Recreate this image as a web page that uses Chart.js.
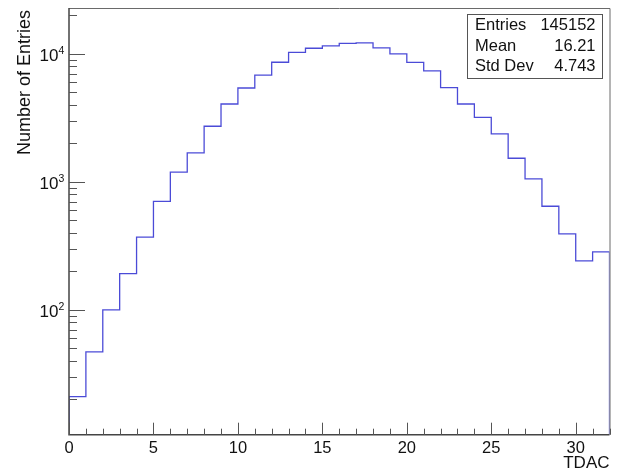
<!DOCTYPE html>
<html>
<head>
<meta charset="utf-8">
<script src="https://cdn.jsdelivr.net/npm/chart.js@4/dist/chart.umd.min.js"></script>
<style>
html,body{margin:0;padding:0;background:#fff;}
#wrap{width:622px;height:473px;position:relative;}
</style>
</head>
<body>
<div id="wrap"><canvas id="c" width="622" height="473"></canvas></div>
<script>
// TDAC bin lower edges (32 bins of width 1)
const binEdges = [0,1,2,3,4,5,6,7,8,9,10,11,12,13,14,15,16,17,18,19,20,21,22,23,24,25,26,27,28,29,30,31];
const binWidth = 1;
// counts per bin
const counts = [21,47,100,192,370,706,1191,1688,2723,4064,5420,6824,8610,10300,11080,11550,12110,12180,11140,10000,8590,7370,5450,4064,3198,2371,1531,1055,646,393,242,284];
const xTickLabels = ['0','5','10','15','20','25','30'];
const xTickValues = [0,5,10,15,20,25,30];
const yTickExponents = [2,3,4];
const statsLabels = ['Entries','Mean','Std Dev'];
const statsValues = ['145152','16.21','4.743'];
const xTitle = 'TDAC';
const yTitle = 'Number of Entries';
const xMin = 0, xMax = 32, yMin = 10.6, yMax = 22850;

// build step outline from the arrays
const pts = [{x: binEdges[0], y: yMin}];
binEdges.forEach((e,i)=>pts.push({x:e, y:counts[i]}));
pts.push({x: binEdges[binEdges.length-1]+binWidth, y: counts[counts.length-1]});
pts.push({x: binEdges[binEdges.length-1]+binWidth, y: yMin});

const FONT = '"Liberation Sans", Arial, Helvetica, sans-serif';

const rootStyle = {
  id: 'rootStyle',
  afterDraw(chart){
    const ctx = chart.ctx, a = chart.chartArea;
    const xs = chart.scales.x, ys = chart.scales.y;
    ctx.save();
    // frame top/right
    ctx.strokeStyle = '#6a6a6a';
    ctx.lineWidth = 1;
    ctx.beginPath();
    ctx.moveTo(a.left, a.top+0.5); ctx.lineTo(a.right+0.5, a.top+0.5); ctx.lineTo(a.right+0.5, a.bottom);
    ctx.stroke();
    // axes left/bottom
    ctx.strokeStyle = '#444';
    ctx.lineWidth = 1.5;
    ctx.beginPath();
    ctx.moveTo(a.left, a.top); ctx.lineTo(a.left, a.bottom); ctx.lineTo(a.right, a.bottom);
    ctx.stroke();
    // y ticks
    ctx.lineWidth = 1;
    ctx.strokeStyle = '#555';
    ctx.beginPath();
    for (let d=1; d<=4; d++){
      for (let m=1; m<=9; m++){
        const v = m*Math.pow(10,d);
        if (v < yMin || v > yMax) continue;
        const py = Math.round(ys.getPixelForValue(v))+0.5;
        const len = (m===1) ? 16 : 8;
        ctx.moveTo(a.left, py); ctx.lineTo(a.left+len, py);
      }
    }
    // x ticks
    for (let v=xMin; v<=xMax; v++){
      const px = Math.round(xs.getPixelForValue(v))+0.5;
      const len = (v%5===0) ? 12 : 6;
      ctx.moveTo(px, a.bottom); ctx.lineTo(px, a.bottom-len);
    }
    ctx.stroke();

    ctx.fillStyle = '#111';
    // x tick labels
    ctx.font = '16.5px ' + FONT;
    ctx.textAlign = 'center'; ctx.textBaseline = 'middle';
    xTickValues.forEach((v,i)=>{
      ctx.fillText(xTickLabels[i], xs.getPixelForValue(v), a.bottom+14);
    });
    // x title
    ctx.font = '17px ' + FONT;
    ctx.textAlign = 'right';
    ctx.fillText(xTitle, a.right, a.bottom+29);
    // y tick labels 10^n
    yTickExponents.forEach(e=>{
      const py = ys.getPixelForValue(Math.pow(10,e));
      ctx.font = '17px ' + FONT;
      ctx.textAlign = 'right'; ctx.textBaseline = 'middle';
      ctx.fillText('10', 58.5, py+2);
      ctx.font = '10.5px ' + FONT;
      ctx.textAlign = 'left';
      ctx.fillText(String(e), 58.5, py-3);
    });
    // y title
    ctx.save();
    ctx.translate(25.5, a.top+2);
    ctx.rotate(-Math.PI/2);
    ctx.font = '18px ' + FONT;
    ctx.textAlign = 'right'; ctx.textBaseline = 'middle';
    ctx.fillText(yTitle, 0, 0);
    ctx.restore();

    // stats box
    const bx = 467.5, by = 14.5, bw = 135, bh = 64;
    ctx.fillStyle = '#fff';
    ctx.fillRect(bx, by, bw, bh);
    ctx.strokeStyle = '#555'; ctx.lineWidth = 1;
    ctx.strokeRect(bx, by, bw, bh);
    ctx.fillStyle = '#111';
    ctx.font = '16.5px ' + FONT;
    ctx.textBaseline = 'middle';
    statsLabels.forEach((l,i)=>{
      const ty = by + 11 + i*20.5;
      ctx.textAlign = 'left'; ctx.fillText(l, bx+7.5, ty);
      ctx.textAlign = 'right'; ctx.fillText(statsValues[i], bx+bw-7, ty);
    });
    ctx.restore();
  }
};

new Chart(document.getElementById('c'), {
  type: 'line',
  data: {
    datasets: [{
      data: pts,
      stepped: 'before',
      borderColor: 'rgb(75,75,215)',
      borderWidth: 1.3,
      pointRadius: 0,
      fill: false,
      tension: 0
    }]
  },
  options: {
    responsive: false,
    animation: false,
    devicePixelRatio: 1,
    layout: { padding: { left: 69, right: 12.5, top: 8, bottom: 38.3 } },
    plugins: { legend: { display: false }, tooltip: { enabled: false } },
    scales: {
      x: { type: 'linear', min: xMin, max: xMax, display: false },
      y: { type: 'logarithmic', min: yMin, max: yMax, display: false }
    }
  },
  plugins: [rootStyle]
});
</script>
</body>
</html>
